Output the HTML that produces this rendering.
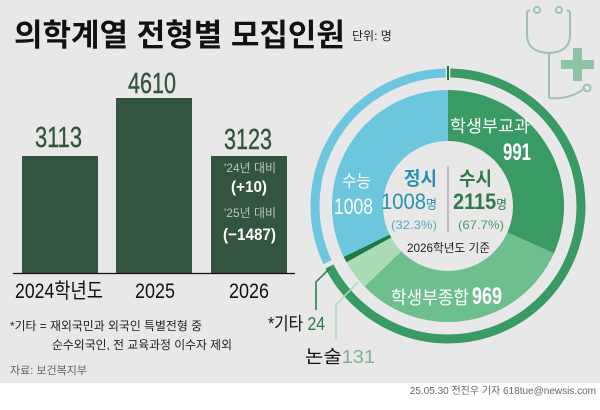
<!DOCTYPE html>
<html><head><meta charset="utf-8"><style>
html,body{margin:0;padding:0;}
body{width:600px;height:405px;overflow:hidden;background:#fff;font-family:"Liberation Sans","Noto Sans CJK KR",sans-serif;}
</style></head><body>
<svg width="600" height="405" xmlns="http://www.w3.org/2000/svg" font-family="Liberation Sans, Noto Sans CJK KR, sans-serif">
<rect x="0" y="0" width="600" height="383" fill="#e8e8e8"/>
<g fill="none" stroke="#9cc2ae" stroke-width="2">
<path d="M530 10 L527 12 L527 35 Q527 52 549 53 Q570 52 570 35 L570 12 L567 10"/>
<circle cx="537" cy="10" r="3"/><circle cx="559" cy="10" r="3"/>
<path d="M549 53 L549 98"/>
<path d="M549 98 Q570 100 585 88"/><circle cx="587" cy="88" r="3.5"/>
</g>
<path d="M573 48 h9 v12 h12 v9 h-12 v12 h-9 v-12 h-12 v-9 h12 z" fill="#8ec3a6"/>
<text x="14" y="46" font-size="31" font-weight="bold" fill="#111">의학계열 전형별 모집인원</text>
<text x="352" y="40" font-size="12" fill="#222">단위: 명</text>
<rect x="22" y="156" width="76" height="117" fill="#33543f"/>
<rect x="116" y="98" width="76" height="175" fill="#33543f"/>
<rect x="211" y="156" width="76" height="117" fill="#33543f"/>
<line x1="13" y1="273.5" x2="295" y2="273.5" stroke="#111" stroke-width="1.2"/>
<g fill="#33543f" stroke="#33543f" stroke-width="0.4" font-size="29">
<text x="35" y="147" textLength="47" lengthAdjust="spacingAndGlyphs">3113</text>
<text x="128" y="93" textLength="48" lengthAdjust="spacingAndGlyphs">4610</text>
<text x="224" y="149" textLength="48" lengthAdjust="spacingAndGlyphs">3123</text>
</g>
<g fill="#fff">
<text x="224" y="172" font-size="12" fill="#b9c4bd" textLength="52" lengthAdjust="spacingAndGlyphs">'24년 대비</text>
<text x="231" y="192" font-size="16" font-weight="bold" textLength="36" lengthAdjust="spacingAndGlyphs">(+10)</text>
<text x="224" y="217" font-size="12" fill="#b9c4bd" textLength="52" lengthAdjust="spacingAndGlyphs">'25년 대비</text>
<text x="223" y="240" font-size="17" font-weight="bold" textLength="53" lengthAdjust="spacingAndGlyphs">(−1487)</text>
</g>
<g font-size="21" fill="#111">
<text x="15" y="298" textLength="88" lengthAdjust="spacingAndGlyphs">2024학년도</text>
<text x="135" y="298" textLength="40" lengthAdjust="spacingAndGlyphs">2025</text>
<text x="229" y="298" textLength="40" lengthAdjust="spacingAndGlyphs">2026</text>
</g>
<text x="10" y="330" font-size="12" fill="#222" textLength="192" lengthAdjust="spacingAndGlyphs">*기타 = 재외국민과 외국인 특별전형 중</text>
<text x="52" y="349" font-size="12" fill="#222" textLength="180" lengthAdjust="spacingAndGlyphs">순수외국인, 전 교육과정 이수자 제외</text>
<text x="10" y="374" font-size="11" fill="#666">자료: 보건복지부</text>
<text x="596" y="394" font-size="10" fill="#666" text-anchor="end">25.05.30 전진우 기자 618tue@newsis.com</text>
<path d="M448 206 L448 90 A116 116 0 0 1 554 253.2 Z" fill="#3a9a64"/>
<path d="M448 206 L554 253.2 A116 116 0 0 1 364.6 286.6 Z" fill="#6dc08e"/>
<path d="M448 206 L364.6 286.6 A116 116 0 0 1 346.5 262.2 Z" fill="#acdcb6"/>
<path d="M448 206 L346.5 262.2 A116 116 0 0 1 343.7 256.9 Z" fill="#1e7a44"/>
<path d="M448 206 L343.7 256.9 A116 116 0 0 1 448 90 Z" fill="#6cc6de"/>
<circle cx="448" cy="206" r="65" fill="#e8e8e8"/>
<path d="M327.5 262.2 A133 133 0 0 1 445.7 73" fill="none" stroke="#6cc6de" stroke-width="9"/>
<path d="M450.3 73 A133 133 0 1 1 329.5 266.4" fill="none" stroke="#3a9a64" stroke-width="9"/>
<line x1="448" y1="66" x2="448" y2="80" stroke="#1e7a44" stroke-width="2"/>
<polyline points="330,268 316,282 316,310" fill="none" stroke="#1e7a44" stroke-width="1.5"/>
<polyline points="358,282 336,305 336,340" fill="none" stroke="#acdcb6" stroke-width="1.5"/>
<text x="268" y="330" font-size="18" fill="#111" textLength="57" lengthAdjust="spacingAndGlyphs">*기타 <tspan fill="#2d7a4a">24</tspan></text>
<text x="305" y="363" font-size="18" fill="#111" textLength="70" lengthAdjust="spacingAndGlyphs">논술<tspan fill="#7fae90">131</tspan></text>
<g fill="#fff">
<text x="450" y="132" font-size="17" textLength="80" lengthAdjust="spacingAndGlyphs">학생부교과</text>
<text x="503" y="160" font-size="24" font-weight="bold" textLength="28" lengthAdjust="spacingAndGlyphs">991</text>
<text x="342" y="187" font-size="17" textLength="29" lengthAdjust="spacingAndGlyphs">수능</text>
<text x="334" y="214" font-size="22" textLength="39" lengthAdjust="spacingAndGlyphs">1008</text>
<text x="391" y="304" font-size="18" textLength="78" lengthAdjust="spacingAndGlyphs">학생부종합</text>
<text x="472" y="304" font-size="24" font-weight="bold" textLength="30" lengthAdjust="spacingAndGlyphs">969</text>
</g>
<line x1="448" y1="166" x2="448" y2="232" stroke="#999" stroke-width="1"/>
<text x="404" y="185" font-size="19" font-weight="bold" fill="#2a8fb0" textLength="33" lengthAdjust="spacingAndGlyphs">정시</text>
<text x="381" y="209" font-size="22" fill="#2a8fb0" textLength="56" lengthAdjust="spacingAndGlyphs">1008<tspan font-size="13">명</tspan></text>
<text x="391" y="229" font-size="12" fill="#5aa8c4" textLength="46" lengthAdjust="spacingAndGlyphs">(32.3%)</text>
<text x="459" y="185" font-size="19" font-weight="bold" fill="#2d7a4a" textLength="33" lengthAdjust="spacingAndGlyphs">수시</text>
<text x="453" y="209" font-size="22" font-weight="bold" fill="#2d7a4a" textLength="54" lengthAdjust="spacingAndGlyphs">2115<tspan font-size="13" font-weight="normal">명</tspan></text>
<text x="458" y="229" font-size="12" fill="#4f9868" textLength="46" lengthAdjust="spacingAndGlyphs">(67.7%)</text>
<text x="407" y="252" font-size="12" fill="#222" textLength="83" lengthAdjust="spacingAndGlyphs">2026학년도 기준</text>
</svg>
</body></html>
